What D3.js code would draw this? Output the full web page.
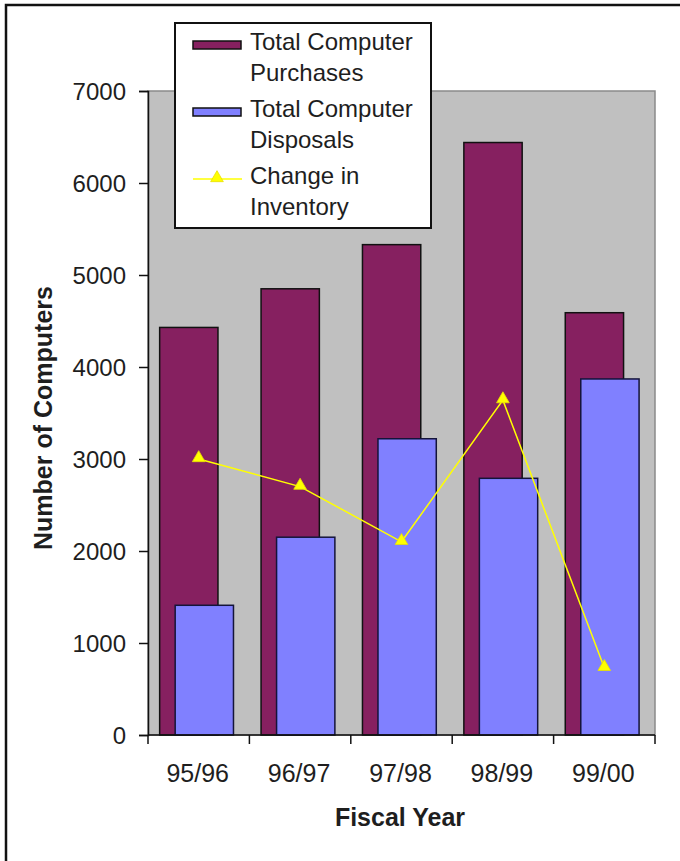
<!DOCTYPE html>
<html>
<head>
<meta charset="utf-8">
<script src="https://cdn.jsdelivr.net/npm/d3@7"></script>
<style>
  html, body { margin: 0; padding: 0; background: #fff; }
  svg { display: block; }
  text { font-family: "Liberation Sans", Arial, sans-serif; fill: #1e1e1e; }
</style>
</head>
<body>
<script>
// Fiscal years and yearly computer counts
const years = ["95/96", "96/97", "97/98", "98/99", "99/00"];
const purchases = [4430, 4850, 5330, 6440, 4590];
const disposals = [1410, 2150, 3220, 2790, 3870];
const inventoryChange = [3000, 2700, 2100, 3640, 730];
const yTicks = [0, 1000, 2000, 3000, 4000, 5000, 6000, 7000];
const legendItems = [
  { lines: ["Total Computer", "Purchases"], kind: "bar", color: "#862060" },
  { lines: ["Total Computer", "Disposals"], kind: "bar", color: "#8080ff" },
  { lines: ["Change in", "Inventory"], kind: "line", color: "#ffff00" }
];

const W = 680, H = 861;
const plot = { left: 148, right: 655, top: 91, bottom: 735 };

const svg = d3.select("body").append("svg").attr("width", W).attr("height", H);

// outer frame (top and left edges visible)
svg.append("rect").attr("x", 6).attr("y", 5).attr("width", 760).attr("height", 960)
  .attr("fill", "none").attr("stroke", "#111").attr("stroke-width", 2.5);

const x = d3.scaleBand().domain(years).range([plot.left, plot.right]).paddingInner(0).paddingOuter(0);
const y = d3.scaleLinear().domain([0, 7000]).range([plot.bottom, plot.top]);
const bw = x.bandwidth();
const cx = d => x(d) + bw / 2;

// plot background
svg.append("rect").attr("x", plot.left).attr("y", plot.top)
  .attr("width", plot.right - plot.left).attr("height", plot.bottom - plot.top)
  .attr("fill", "#c0c0c0").attr("stroke", "#8a8a8a").attr("stroke-width", 1.5);

// bar geometry relative to category centre
const barW = bw * 0.575;
const offP = -bw * 0.385;
const offD = -bw * 0.232;

svg.append("g").selectAll("rect").data(years).join("rect")
  .attr("x", (d) => cx(d) + offP)
  .attr("y", (d, i) => y(purchases[i]))
  .attr("width", barW)
  .attr("height", (d, i) => y(0) - y(purchases[i]))
  .attr("fill", "#862060").attr("stroke", "#111").attr("stroke-width", 1.5);

svg.append("g").selectAll("rect").data(years).join("rect")
  .attr("x", (d) => cx(d) + offD)
  .attr("y", (d, i) => y(disposals[i]))
  .attr("width", barW)
  .attr("height", (d, i) => y(0) - y(disposals[i]))
  .attr("fill", "#8080ff").attr("stroke", "#14143a").attr("stroke-width", 1.5);

// change in inventory line
const line = d3.line().x((d, i) => cx(years[i])).y(d => y(d));
svg.append("path").datum(inventoryChange).attr("d", line)
  .attr("fill", "none").attr("stroke", "#ffff00").attr("stroke-width", 1.5);

const tri = d3.symbol().type(d3.symbolTriangle).size(70);
svg.append("g").selectAll("path").data(inventoryChange).join("path")
  .attr("d", tri)
  .attr("transform", (d, i) => `translate(${cx(years[i])},${y(d) - 1})`)
  .attr("fill", "#ffff00").attr("stroke", "#e8e000").attr("stroke-width", 0.8);

// y axis
const yAxis = d3.axisLeft(y).tickValues(yTicks).tickSize(9).tickPadding(13).tickFormat(d3.format("d"));
const gy = svg.append("g").attr("transform", `translate(${plot.left},0)`).call(yAxis);
gy.select(".domain").attr("stroke", "#111").attr("stroke-width", 1.5);
gy.selectAll(".tick line").attr("stroke", "#111").attr("stroke-width", 1.5);
gy.selectAll(".tick text").attr("font-size", 24).attr("font-family", "Liberation Sans, Arial, sans-serif")
  .attr("fill", "#1e1e1e").attr("dy", "0.36em");

// x axis: ticks at category boundaries
const gx = svg.append("g").attr("transform", `translate(0,${plot.bottom})`);
gx.append("line").attr("x1", plot.left).attr("x2", plot.right).attr("y1", 0).attr("y2", 0)
  .attr("stroke", "#111").attr("stroke-width", 1.5);
const bounds = years.map(d => x(d)).concat([plot.right]);
gx.selectAll("line.tk").data(bounds).join("line").attr("class", "tk")
  .attr("x1", d => d).attr("x2", d => d).attr("y1", 0).attr("y2", 9)
  .attr("stroke", "#111").attr("stroke-width", 1.5);
gx.selectAll("text").data(years).join("text")
  .attr("x", d => cx(d) - 1).attr("y", 47)
  .attr("text-anchor", "middle").attr("font-size", 25).text(d => d);

// axis titles
svg.append("text").attr("x", 400).attr("y", 826).attr("text-anchor", "middle")
  .attr("font-size", 25).attr("font-weight", "bold").text("Fiscal Year");
svg.append("text").attr("transform", "translate(52,418) rotate(-90)").attr("text-anchor", "middle")
  .attr("font-size", 25).attr("font-weight", "bold").text("Number of Computers");

// legend
const lg = svg.append("g");
lg.append("rect").attr("x", 175).attr("y", 23).attr("width", 256).attr("height", 205)
  .attr("fill", "#fff").attr("stroke", "#111").attr("stroke-width", 2);
const baselines = [50, 117, 184];
legendItems.forEach((it, i) => {
  const b = baselines[i];
  it.lines.forEach((t, j) => {
    lg.append("text").attr("x", 250).attr("y", b + j * 31).attr("font-size", 24).text(t);
  });
  const sy = b - 5;
  if (it.kind === "bar") {
    lg.append("rect").attr("x", 193).attr("y", sy - 4).attr("width", 48).attr("height", 8)
      .attr("fill", it.color).attr("stroke", "#111").attr("stroke-width", 1.5);
  } else {
    lg.append("line").attr("x1", 193).attr("x2", 242).attr("y1", sy).attr("y2", sy)
      .attr("stroke", it.color).attr("stroke-width", 1.5);
    lg.append("path").attr("d", tri).attr("transform", `translate(217,${sy - 1})`)
      .attr("fill", it.color).attr("stroke", "#e8e000").attr("stroke-width", 0.8);
  }
});
</script>
</body>
</html>
